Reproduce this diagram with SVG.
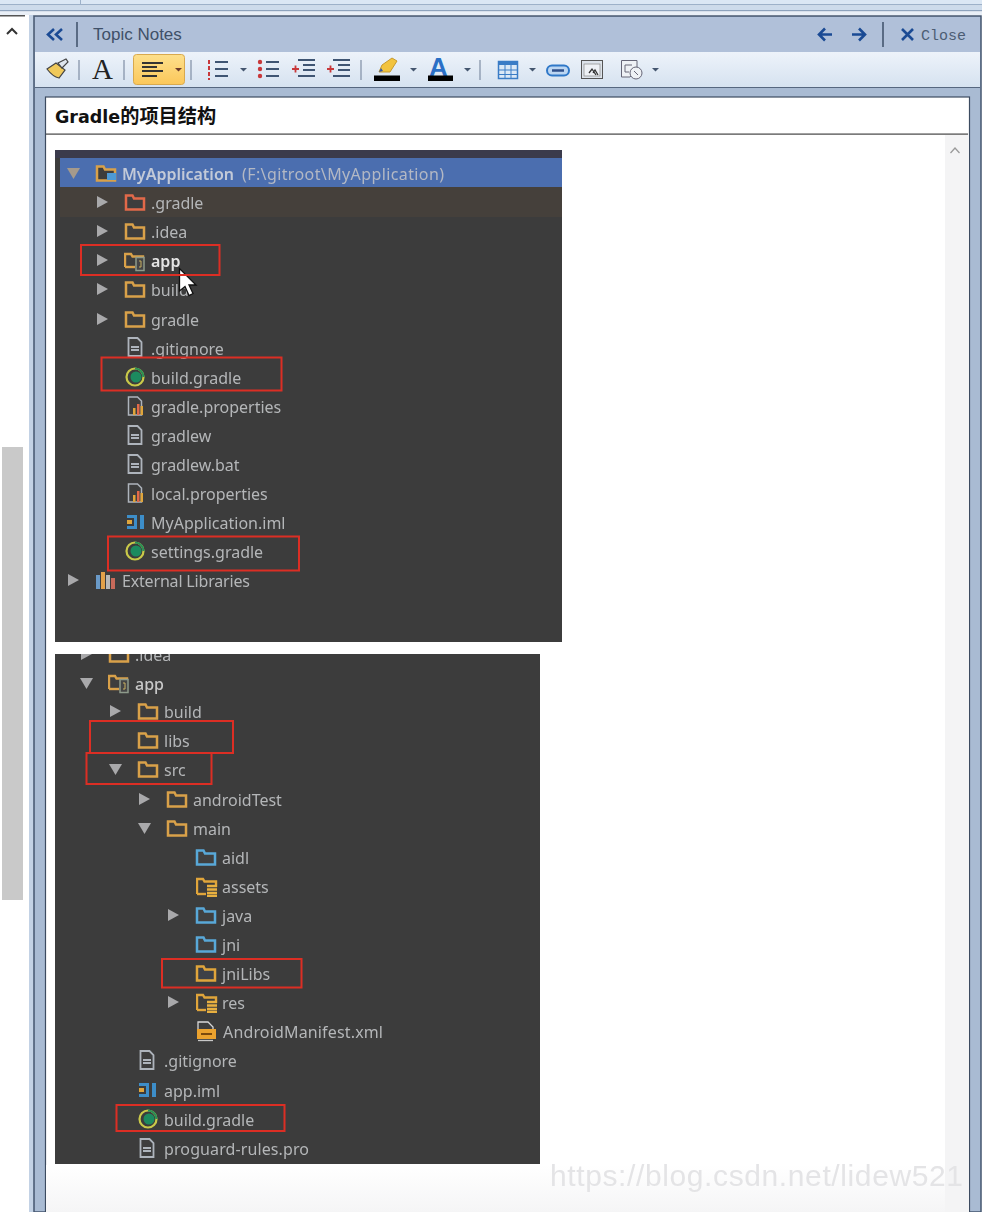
<svg xmlns="http://www.w3.org/2000/svg" width="982" height="1212" viewBox="0 0 982 1212">
<style>
.t{font-family:"Noto Sans","Liberation Sans",sans-serif;font-size:16px;fill:#b4b6b8;transform:translateY(.7px)}
.fo{stroke:#d9a14a;fill:#3c3c3c}
.fr{stroke:#e2694a;fill:#3c3c3c}
.fb{stroke:#58a8d8;fill:#41403f}
.fy{stroke:#e0a53a;fill:#3c4046}
.red{fill:none;stroke:#dc2e24;stroke-width:2}
.tb{stroke:#3f5573;stroke-width:2;fill:none}
.sep{stroke:#7f8ea4;stroke-width:1.2}
.hsep{stroke:#44566f;stroke-width:1.6}
.dd{fill:#44566f}
.nav{fill:none;stroke:#1a4a94;stroke-width:2.6}
.arr{fill:#a9a9ab}
</style>
<defs>
<symbol id="folder" width="20" height="18" viewBox="0 0 20 18" overflow="visible"><path d="M1 15.500V1.500h6.500l1.500 3H19v11z" stroke-width="2.500"/></symbol>
<symbol id="doc" width="16" height="20" viewBox="0 0 16 20"><path d="M1.500 1h9l4 4v14h-13z" fill="#3c3c3c" stroke="#aeb4bc" stroke-width="1.800"/><path d="M4 10h8M4 13h8" stroke="#aeb4bc" stroke-width="1.800"/></symbol>
<symbol id="gr" width="20" height="20" viewBox="0 0 20 20"><circle cx="10" cy="10" r="8.500" fill="none" stroke="#c9c94a" stroke-width="2.200"/><path d="M10 1.500A8.500 8.500 0 0 1 18.500 10" fill="none" stroke="#2c8f55" stroke-width="2.200"/><circle cx="11" cy="10" r="5.500" fill="#1f8a5e"/></symbol>
<symbol id="iml" width="20" height="18" viewBox="0 0 20 18"><path d="M1 2h10v14H1v-3h7V5H1z" fill="#3d8ec9"/><rect x="14" y="2" width="4" height="14" fill="#3d8ec9"/><rect x="1" y="7" width="5" height="4" fill="#e0a53a"/></symbol>
<symbol id="prop" width="18" height="20" viewBox="0 0 18 20"><path d="M1.500 1h9l4 4v14h-13z" fill="#3c3c3c" stroke="#aeb4bc" stroke-width="1.500"/><rect x="6" y="12" width="2.500" height="7" fill="#e0a53a"/><rect x="10" y="8" width="2.500" height="11" fill="#e2694a"/><rect x="13.500" y="10" width="2.500" height="9" fill="#e0a53a"/></symbol>
<symbol id="res" width="22" height="20" viewBox="0 0 22 20"><path d="M1 17V2h6l1.500 2.500H20V10" fill="none" stroke="#e0a53a" stroke-width="2.400"/><path d="M1 17h9" stroke="#e0a53a" stroke-width="2.400"/><path d="M11 9h10M11 12.500h10M11 16h10M11 19h10" stroke="#e8b040" stroke-width="2.400"/></symbol>
<symbol id="mod" width="22" height="20" viewBox="0 0 22 20"><path d="M1 15V2h6l1.500 2.500H19V6" fill="#3c3c3c" stroke="#d9a14a" stroke-width="2.400"/><path d="M1 15h10" stroke="#d9a14a" stroke-width="2.400"/><rect x="12" y="5.500" width="8" height="13" fill="#444" stroke="#8d9a8a" stroke-width="1.500"/><path d="M15 9h2v6h-2" stroke="#c8b060" fill="none"/></symbol>
<path id="ar" d="M0-6V6L11 0z"/>
<path id="ad" d="M0-5H13L6.500 6z"/>
<path id="drop" d="M0 0H7L3.500 3.500z"/>
<linearGradient id="tbg" x1="0" y1="0" x2="0" y2="1"><stop offset="0" stop-color="#edf3fa"/><stop offset="1" stop-color="#d6e2f0"/></linearGradient>
<linearGradient id="bot" x1="0" y1="0" x2="0" y2="1"><stop offset="0" stop-color="#fff"/><stop offset="1" stop-color="#f5f5f6"/></linearGradient>
<linearGradient id="btn" x1="0" y1="0" x2="0" y2="1"><stop offset="0" stop-color="#fde08c"/><stop offset="1" stop-color="#fbc75a"/></linearGradient>
<clipPath id="c2"><rect x="55" y="654" width="485" height="510"/></clipPath>
<filter id="soft" x="-2%" y="-2%" width="104%" height="104%"><feGaussianBlur stdDeviation="0.45"/></filter>
</defs>

<rect width="982" height="1212" fill="#fff"/>
<g id="window-top">
<rect width="982" height="4" fill="#dbe7f4"/>
<rect y="4" width="982" height="1.500" fill="#9db1c9"/>
<rect y="5.500" width="982" height="4.500" fill="#cddbeb"/>
<rect y="10" width="982" height="1.500" fill="#8ea3bd"/>
<rect y="11.500" width="982" height="3.500" fill="#e9eff7"/>
<rect x="80" y="0" width="1" height="4" fill="#9db1c9"/>
<rect y="15" width="25" height="1.500" fill="#555"/>
</g>
<g id="left-scroll">
<path d="M7 34l5-5 5 5" fill="none" stroke="#333" stroke-width="2"/>
<rect x="2" y="447" width="21" height="453" fill="#c9c9c9"/>
<rect x="29" y="15" width="5" height="1197" fill="#c3d2e5"/>
</g>
<g id="panel">
<rect x="34" y="16" width="947" height="1196" fill="#a9bbd3" stroke="#44566f" stroke-width="1.500"/>
<rect x="35" y="17" width="945" height="35" fill="#b0c0d9"/>
<rect x="35" y="52" width="945" height="35" fill="url(#tbg)"/>
<rect x="35" y="87" width="945" height="1" fill="#56677f"/>
<rect x="45.500" y="97" width="924" height="1115" fill="#fff" stroke="#3c4b60" stroke-width="1.200"/>
<rect x="46" y="133.500" width="922" height="1.200" fill="#444"/>
<rect x="46" y="1165" width="899" height="47" fill="url(#bot)"/>
<rect x="945" y="135" width="24" height="1077" fill="#f4f4f5"/>
<path d="M950.500 153l4.500-5 4.500 5" fill="none" stroke="#9a9a9a" stroke-width="1.300"/>
</g>
<g id="header">
<path class="nav" d="M54 29l-6 5.500 6 5.500M62 29l-6 5.500 6 5.500"/>
<path class="hsep" d="M77 22V47"/>
<text x="93" y="40" font-family="'Liberation Sans',sans-serif" font-size="17" fill="#3f5068">Topic Notes</text>
<path class="nav" d="M832 34.500H820M825 28.500l-6 6 6 6"/>
<path class="nav" d="M852 34.500H864M859 28.500l6 6-6 6"/>
<path class="hsep" d="M883 22V47"/>
<path class="nav" d="M902 29l11 11M913 29l-11 11"/>
<text x="921" y="40" font-family="'Liberation Mono',monospace" font-size="15" fill="#4c5d74">Close</text>
</g>
<g id="toolbar">
<g id="brush"><path d="M47 69l9-6 9 7-6 8c-5-1-9-5-12-9z" fill="#f0c95a" stroke="#444" stroke-width="1.200"/><path d="M58 63l8-4 2 3-6 6z" fill="#dfe6ee" stroke="#444" stroke-width="1.200"/></g>
<path class="sep" d="M79 60V80"/>
<text x="92" y="79" font-family="'Liberation Serif',serif" font-size="29" fill="#222">A</text>
<path class="sep" d="M124 60V80"/>
<rect x="133.500" y="54.500" width="51" height="30" rx="3" fill="url(#btn)" stroke="#d8a94e"/>
<path d="M142 63H163M142 67H157M142 71H163M142 76H157" stroke="#333" stroke-width="2"/>
<use href="#drop" x="175" y="68" fill="#6b3a2a"/>
<path class="sep" d="M191 60V80"/>
<g id="numlist"><path d="M209 60v20" stroke="#c8383a" stroke-width="2" stroke-dasharray="4 2"/><path class="tb" d="M215 62H228M215 69H228M215 76H228"/></g>
<use href="#drop" x="240" y="68" class="dd"/>
<g id="bullets"><circle cx="260" cy="62" r="2.200" fill="#c8383a"/><circle cx="260" cy="69" r="2.200" fill="#c8383a"/><circle cx="260" cy="76" r="2.200" fill="#c8383a"/><path class="tb" d="M266 62H279M266 69H279M266 76H279"/></g>
<g id="indent"><path d="M292 69h7M295.500 65.500v7" stroke="#c8383a" stroke-width="1.800"/><path class="tb" d="M298 60H315M303 65H315M303 70H315M298 76H315"/></g>
<g id="outdent"><path d="M327 69h7M330.500 65.500v7" stroke="#c8383a" stroke-width="1.800"/><path class="tb" d="M333 60H350M338 65H350M338 70H350M333 76H350"/></g>
<path class="sep" d="M361 60V80"/>
<g id="highlight"><path d="M379 72l3-7 10-7 5 3-7 11z" fill="#f2c33e" stroke="#c79a2e"/><path d="M379 72l4-1-2-3z" fill="#3557a5"/><rect x="374" y="75.500" width="26" height="5.500" fill="#000"/></g>
<use href="#drop" x="410" y="68" class="dd"/>
<g id="fontcolor"><text x="429" y="76" font-family="'Liberation Sans',sans-serif" font-weight="700" font-size="26" fill="#2a6fc6">A</text><rect x="428" y="75.500" width="25" height="5.500" fill="#000"/></g>
<use href="#drop" x="464" y="68" class="dd"/>
<path class="sep" d="M480 60V80"/>
<g id="table"><rect x="498.500" y="61.500" width="19" height="17" fill="#dbe8f6" stroke="#3a7cc6" stroke-width="1.500"/><rect x="498" y="61" width="20" height="4" fill="#3a7cc6"/><path d="M498 70H518M498 74.500H518M505 65V79M511 65V79" stroke="#3a7cc6"/></g>
<use href="#drop" x="529" y="68" class="dd"/>
<g id="link"><rect x="547" y="65.500" width="22" height="10" rx="5" fill="#bcd6f2" stroke="#2f78c8" stroke-width="2"/><path d="M552 70.500H564" stroke="#2f4f8a" stroke-width="2.500"/></g>
<g id="picture"><rect x="581.500" y="60.500" width="21" height="18" fill="#dde3ea" stroke="#555"/><rect x="584" y="64" width="16" height="12" fill="#eef1f5" stroke="#888" stroke-width=".7"/><path d="M589 73l3-4 4 6M593 73l2-3 3 5" fill="none" stroke="#333" stroke-width="1.300"/></g>
<g id="docicon"><path d="M621.500 60.500H637V69l-7 8H621.500z" fill="#eef1f5" stroke="#667"/><path d="M625 65h7M625 65v7h4" fill="none" stroke="#667"/><circle cx="636" cy="73" r="6" fill="#eef1f5" stroke="#667"/><path d="M634 71l4 4" stroke="#667"/></g>
<use href="#drop" x="652" y="68" class="dd"/>
</g>
<text id="title" x="55" y="123" font-family="'DejaVu Sans','Noto Sans CJK SC',sans-serif" font-weight="700" font-size="17.500" fill="#111">Gradle<tspan font-size="19.200">的项目结构</tspan></text>

<g id="tree1">
<rect x="55" y="150" width="507" height="492" fill="#3c3c3c"/>
<rect x="55" y="150" width="507" height="8" fill="#3b3b4c"/>
<rect x="60" y="158" width="502" height="29" fill="#4b6eaf"/>
<rect x="60" y="187" width="502" height="30" fill="#45403b"/>
<g filter="url(#soft)">
<use href="#ad" x="67" y="173" fill="#a59a8c"/>
<use href="#folder" x="96" y="165" class="fo"/><rect x="107" y="173" width="9" height="7" fill="#4e9ad6"/>
<text x="122" y="179" class="t" style="fill:#c3cad8;font-weight:600">MyApplication</text>
<text x="242" y="179" class="t" style="fill:#b3b8c4" textLength="202">(F:\gitroot\MyApplication)</text>
<use href="#ar" class="arr" x="97" y="202"/><use href="#folder" x="125" y="194" class="fr"/><text x="151" y="208" class="t">.gradle</text>
<use href="#ar" class="arr" x="97" y="231"/><use href="#folder" x="125" y="223" class="fo"/><text x="151" y="237" class="t">.idea</text>
<use href="#ar" class="arr" x="97" y="260"/><use href="#mod" x="124" y="252"/><text x="151" y="266" class="t" style="fill:#e4e4e4;font-weight:600">app</text>
<use href="#ar" class="arr" x="97" y="289"/><use href="#folder" x="125" y="281" class="fo"/><text x="151" y="295" class="t">build</text>
<use href="#ar" class="arr" x="97" y="319"/><use href="#folder" x="125" y="311" class="fo"/><text x="151" y="325" class="t">gradle</text>
<use href="#doc" x="127" y="337"/><text x="151" y="354" class="t">.gitignore</text>
<use href="#gr" x="125" y="367"/><text x="151" y="383" class="t">build.gradle</text>
<use href="#prop" x="127" y="396"/><text x="151" y="412" class="t">gradle.properties</text>
<use href="#doc" x="127" y="425"/><text x="151" y="441" class="t">gradlew</text>
<use href="#doc" x="127" y="454"/><text x="151" y="470" class="t">gradlew.bat</text>
<use href="#prop" x="127" y="483"/><text x="151" y="499" class="t">local.properties</text>
<use href="#iml" x="126" y="513"/><text x="151" y="528" class="t">MyApplication.iml</text>
<use href="#gr" x="125" y="541"/><text x="151" y="557" class="t">settings.gradle</text>
<use href="#ar" class="arr" x="68" y="580"/>
<g id="libs-icon"><rect x="96" y="575" width="4" height="14" fill="#6a9ac8"/><rect x="101" y="572" width="4" height="17" fill="#e2a04a"/><rect x="106" y="575" width="4" height="14" fill="#b8b8b8"/><rect x="111" y="578" width="4" height="11" fill="#c86a5a"/></g>
<text x="122" y="586" class="t" textLength="128">External Libraries</text>
</g>
<g id="cursor"><path d="M179.500 268.500V291l5.500-4.500 4 9 4-2-4-8.500h7z" fill="#fff" stroke="#111" stroke-width="1.300"/></g>
<rect x="81" y="245" width="138.500" height="30" class="red"/>
<rect x="101.500" y="357.500" width="180" height="33" class="red"/>
<rect x="108" y="536.500" width="191" height="34" class="red"/>
</g>

<g id="tree2">
<rect x="55" y="654" width="485" height="510" fill="#3c3c3c"/>
<g filter="url(#soft)" clip-path="url(#c2)">
<use href="#ar" class="arr" x="81" y="654"/><use href="#folder" x="109" y="646" class="fo"/><text x="135" y="660" class="t">.idea</text>
<use href="#ad" class="arr" x="80" y="683"/><use href="#mod" x="108" y="674"/><text x="135" y="689" class="t" style="fill:#c8c8c8;font-weight:500">app</text>
<use href="#ar" class="arr" x="110" y="711"/><use href="#folder" x="138" y="703" class="fo"/><text x="164" y="717" class="t">build</text>
<use href="#folder" x="138" y="732" class="fo"/><text x="164" y="746" class="t">libs</text>
<use href="#ad" class="arr" x="109" y="769"/><use href="#folder" x="138" y="761" class="fo"/><text x="164" y="775" class="t">src</text>
<use href="#ar" class="arr" x="139" y="799"/><use href="#folder" x="167" y="791" class="fo"/><text x="193" y="805" class="t">androidTest</text>
<use href="#ad" class="arr" x="138" y="828"/><use href="#folder" x="167" y="820" class="fo"/><text x="193" y="834" class="t">main</text>
<use href="#folder" x="196" y="849" class="fb"/><text x="222" y="863" class="t">aidl</text>
<use href="#res" x="196" y="877"/><text x="222" y="892" class="t">assets</text>
<use href="#ar" class="arr" x="168" y="915"/><use href="#folder" x="196" y="907" class="fb"/><text x="222" y="921" class="t">java</text>
<use href="#folder" x="196" y="936" class="fb"/><text x="222" y="950" class="t">jni</text>
<use href="#folder" x="196" y="965" class="fy"/><text x="222" y="979" class="t">jniLibs</text>
<use href="#ar" class="arr" x="168" y="1002"/><use href="#res" x="196" y="993"/><text x="222" y="1008" class="t">res</text>
<g id="manifest"><path d="M198 1022h10l5 5v5h-15z" fill="#3c3c3c" stroke="#d8d8d8" stroke-width="1.300"/><rect x="197" y="1029" width="19" height="10" fill="#eba22e"/><path d="M201 1034h11" stroke="#7a4a10" stroke-width="2"/><path d="M198 1040.500h15" stroke="#c8c8c8" stroke-width="1.300"/></g>
<text x="223" y="1037" class="t" textLength="160">AndroidManifest.xml</text>
<use href="#doc" x="139" y="1050"/><text x="164" y="1066" class="t">.gitignore</text>
<use href="#iml" x="138" y="1081"/><text x="164" y="1096" class="t">app.iml</text>
<use href="#gr" x="138" y="1109"/><text x="164" y="1125" class="t">build.gradle</text>
<use href="#doc" x="139" y="1138"/><text x="164" y="1154" class="t" textLength="145">proguard-rules.pro</text>
</g>
<rect x="90" y="721" width="143" height="32" class="red"/>
<rect x="86.500" y="753" width="125" height="31" class="red"/>
<rect x="162" y="959" width="139.500" height="28.500" class="red"/>
<rect x="116.500" y="1105" width="168" height="26" class="red"/>
</g>

<text id="watermark" x="550" y="1186" font-family="'Liberation Sans',sans-serif" font-size="30" fill="#e4e4e6" textLength="413">https://blog.csdn.net/lidew521</text>
</svg>
